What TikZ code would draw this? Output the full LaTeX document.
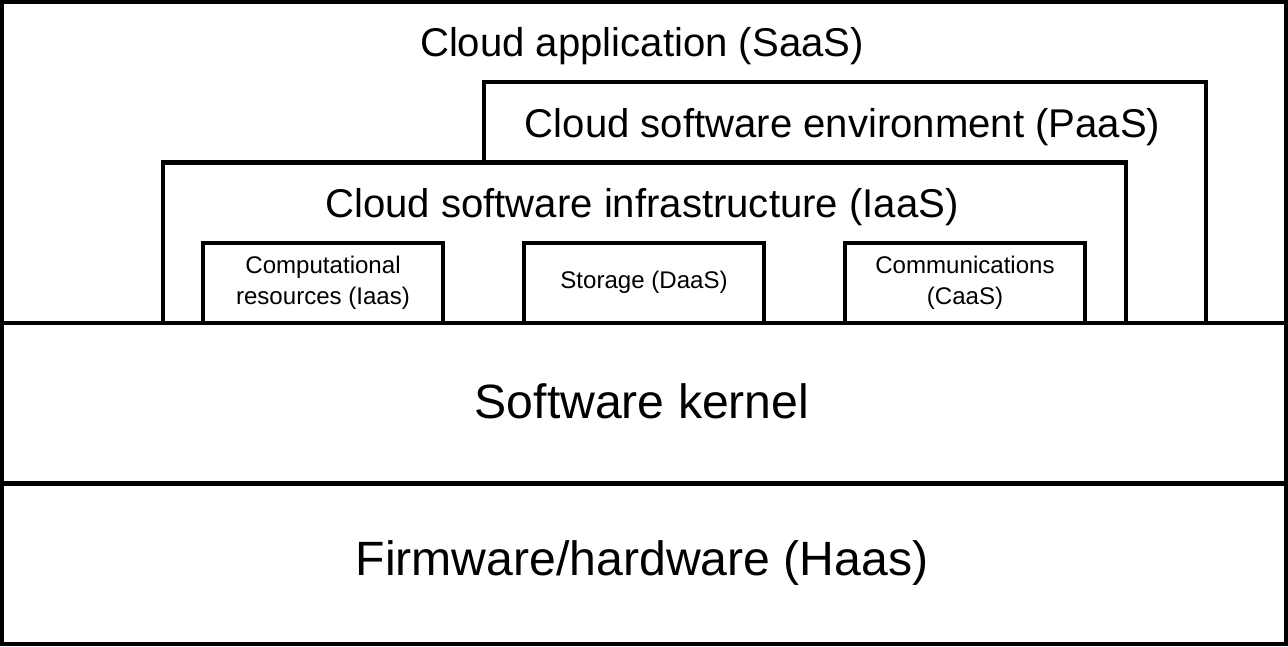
\documentclass[tikz,border=0pt]{standalone}
\usepackage{fontspec}
\setmainfont{Liberation Sans}
\usepackage{tikz}

\begin{document}
\begin{tikzpicture}[
    x=1pt, y=-1pt,
    box/.style={draw, line width=4pt, fill=white, inner sep=0pt, outer sep=0pt},
    big text/.style={font=\fontsize{48}{58}\selectfont},
    mid text/.style={font=\fontsize{40}{48}\selectfont},
    small text/.style={font=\fontsize{24}{31}\selectfont, align=center}
]
\useasboundingbox (0,0) rectangle (1284,644);

% Service layers
\node[box, minimum width=1280pt, minimum height=320pt] (saas) at (642, 162) {};
\node[box, minimum width=720pt, minimum height=240pt] (paas) at (842, 202) {};
\node[box, minimum width=960pt, minimum height=160pt] (iaas) at (642, 242) {};

\node[mid text] (saas title) at (640, 46) {Cloud application (SaaS)};
\node[mid text] (paas title) at (840, 127) {Cloud software environment (PaaS)};
\node[mid text] (iaas title) at (640, 206) {Cloud software infrastructure (IaaS)};

% Infrastructure parts
\node[box, minimum width=240pt, minimum height=80pt] (comp) at (322, 282) {};
\node[box, minimum width=240pt, minimum height=80pt] (stor) at (642, 282) {};
\node[box, minimum width=240pt, minimum height=80pt] (comm) at (962, 282) {};

\node[small text] (comp text) at (322, 282) {Computational\\resources (Iaas)};
\node[small text] (stor text) at (642, 281) {Storage (DaaS)};
\node[small text] (comm text) at (962, 282) {Communications\\(CaaS)};

% Kernel and hardware
\node[box, minimum width=1280pt, minimum height=160pt] (kernel) at (642, 402) {};
\node[box, minimum width=1280pt, minimum height=160pt] (firm) at (642, 562) {};

\node[big text] (kernel text) at (640, 400) {Software kernel};
\node[big text] (firm text) at (640, 561) {Firmware/hardware (Haas)};

\end{tikzpicture}
\end{document}
